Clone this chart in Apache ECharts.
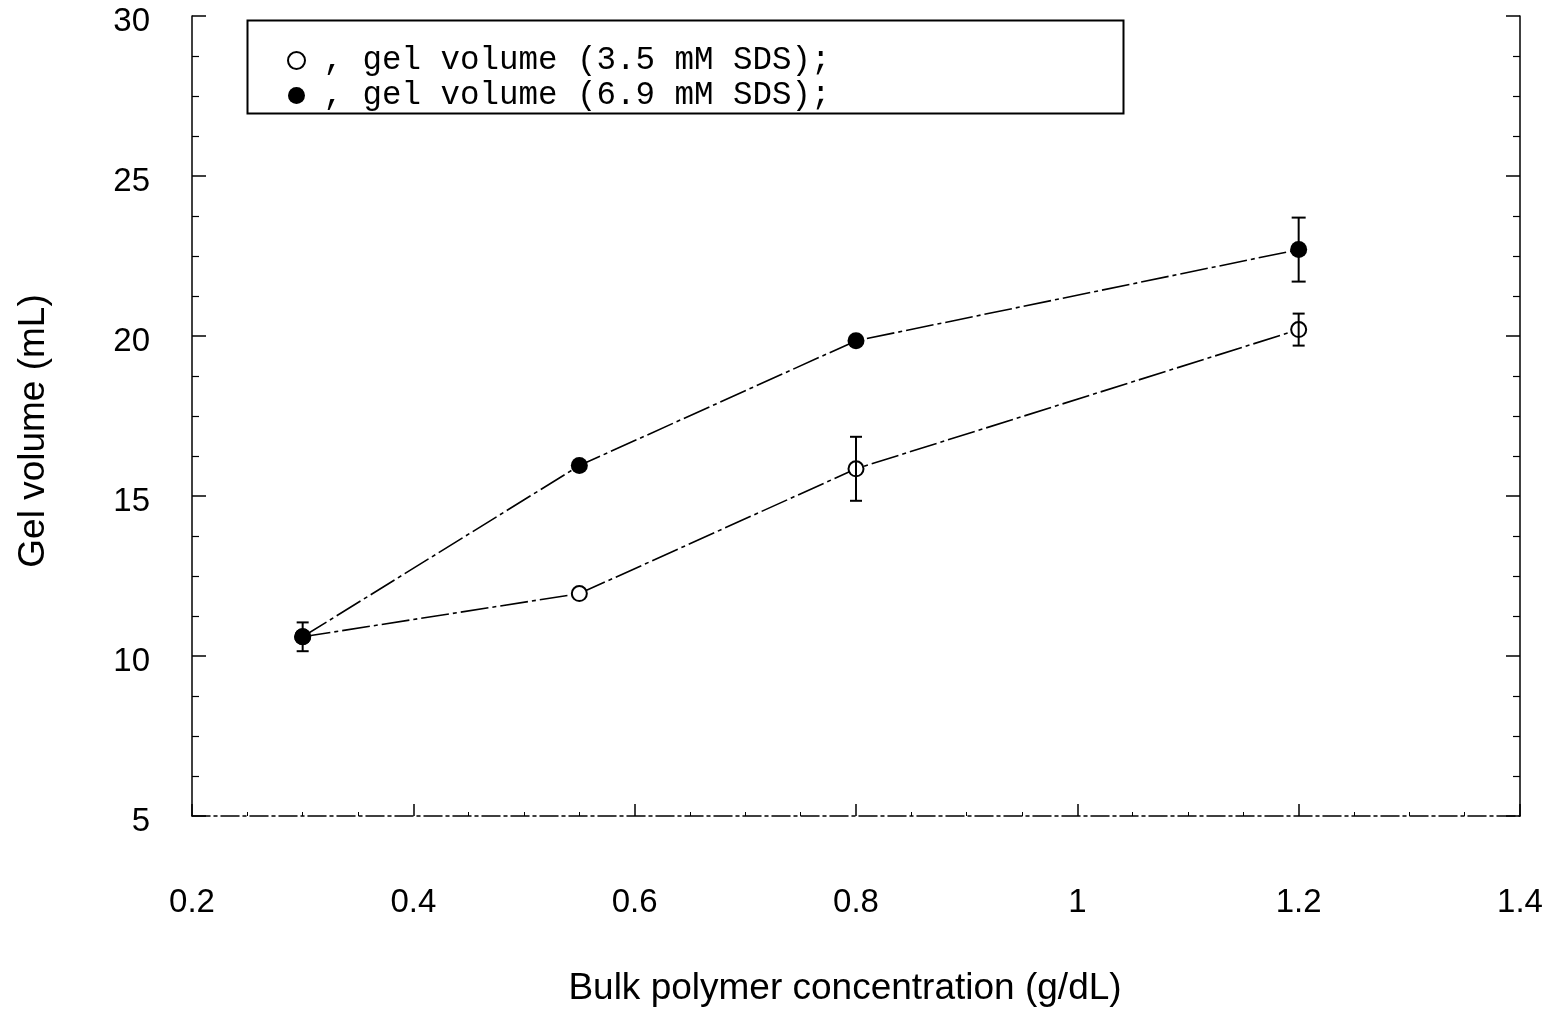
<!DOCTYPE html>
<html>
<head>
<meta charset="utf-8">
<script src="https://cdn.jsdelivr.net/npm/echarts@6/dist/echarts.min.js"></script>
<style>
  html, body { margin: 0; padding: 0; background: #fff; }
  #chart { width: 1552px; height: 1013px; }
</style>
</head>
<body>
<div id="chart"></div>
<script>
// Bulk polymer concentration (g/dL)
const concentrations = [0.3, 0.55, 0.8, 1.2];

// Gel volume (mL) and error half-widths, 3.5 mM SDS
const gel35 = [10.6, 11.95, 15.85, 20.2];
const err35 = [0.45, 0, 1.0, 0.5];

// Gel volume (mL) and error half-widths, 6.9 mM SDS
const gel69 = [10.6, 15.95, 19.85, 22.7];
const err69 = [0, 0, 0, 1.0];

const name35 = 'gel volume (3.5 mM SDS)';
const name69 = 'gel volume (6.9 mM SDS)';

const pairs = (xs, ys) => xs.map((x, i) => [x, ys[i]]);
const errRows = (xs, ys, es) => xs.map((x, i) => [x, ys[i], es[i]]).filter(r => r[2] > 0);

function errorBar(capHalf) {
  return function (params, api) {
    const x = api.value(0), y = api.value(1), e = api.value(2);
    const top = api.coord([x, y + e]);
    const bot = api.coord([x, y - e]);
    const style = { stroke: '#000', lineWidth: 2 };
    return {
      type: 'group',
      children: [
        { type: 'line', shape: { x1: top[0], y1: top[1], x2: bot[0], y2: bot[1] }, style },
        { type: 'line', shape: { x1: top[0] - capHalf, y1: top[1], x2: top[0] + capHalf, y2: top[1] }, style },
        { type: 'line', shape: { x1: bot[0] - capHalf, y1: bot[1], x2: bot[0] + capHalf, y2: bot[1] }, style }
      ]
    };
  };
}

const chart = echarts.init(document.getElementById('chart'));
const sans = 'Liberation Sans, Arial, sans-serif';
const labelFont = { fontFamily: sans, fontSize: 33, color: '#000' };
const titleFont = { fontFamily: sans, fontSize: 37, color: '#000' };

chart.setOption({
  animation: false,
  backgroundColor: '#fff',
  grid: { left: 192, right: 32, top: 16, height: 800, outerBoundsMode: 'none', containLabel: false },
  legend: {
    left: 282, top: 39,
    orient: 'vertical',
    icon: 'circle',
    itemGap: 2,
    itemWidth: 17, itemHeight: 17,
    data: [name35, name69],
    formatter: n => ' , ' + n + ';',
    textStyle: {
      fontFamily: 'Liberation Mono, Courier New, monospace', fontSize: 32.5, lineHeight: 28,
      color: '#000', padding: [0, 0, 0, -6]
    }
  },
  graphic: [{
    type: 'rect', left: 245, top: 18,
    shape: { width: 876, height: 93 },
    style: { fill: 'none', stroke: '#000', lineWidth: 2 },
    z: 10
  }],
  xAxis: {
    type: 'value', min: 0.2, max: 1.4, interval: 0.2,
    axisLine: { lineStyle: { color: '#000', width: 1.5, type: [18, 4, 3, 4] } },
    axisTick: { inside: true, length: 12, lineStyle: { color: '#000', width: 1.5 } },
    minorTick: { show: true, splitNumber: 4, length: 4, lineStyle: { color: '#000' } },
    splitLine: { show: false },
    axisLabel: Object.assign({ margin: 70 }, labelFont),
    name: 'Bulk polymer concentration (g/dL)',
    nameLocation: 'middle', nameGap: 154,
    nameTextStyle: Object.assign({ padding: [0, 22, 0, 0] }, titleFont)
  },
  yAxis: [{
    type: 'value', min: 5, max: 30, interval: 5,
    axisLine: { lineStyle: { color: '#000', width: 1.5 } },
    axisTick: { inside: true, length: 14, lineStyle: { color: '#000', width: 1.5 } },
    minorTick: { show: true, splitNumber: 4, length: 7, lineStyle: { color: '#000', width: 1.2 } },
    splitLine: { show: false },
    axisLabel: Object.assign({ margin: 42, verticalAlign: 'top', lineHeight: 12 }, labelFont),
    name: 'Gel volume (mL)',
    nameLocation: 'middle', nameGap: 140, nameRotate: 90,
    nameTextStyle: Object.assign({ padding: [0, 30, 0, 0] }, titleFont)
  }, {
    type: 'value', min: 5, max: 30, interval: 5, position: 'right',
    axisLine: { show: true, lineStyle: { color: '#000', width: 1.5 } },
    axisTick: { inside: true, length: 14, lineStyle: { color: '#000', width: 1.5 } },
    minorTick: { show: true, splitNumber: 4, length: 7, lineStyle: { color: '#000', width: 1.2 } },
    splitLine: { show: false },
    axisLabel: { show: false }
  }],
  series: [
    {
      name: name35, type: 'line', data: pairs(concentrations, gel35),
      symbol: 'circle', symbolSize: 15,
      itemStyle: { color: '#fff', borderColor: '#000', borderWidth: 2 },
      lineStyle: { color: '#000', width: 1.6, type: [28, 4, 4, 4] },
      z: 3
    },
    {
      name: name69, type: 'line', data: pairs(concentrations, gel69),
      symbol: 'circle', symbolSize: 17,
      itemStyle: { color: '#000', borderColor: '#000', borderWidth: 0 },
      lineStyle: { color: '#000', width: 1.6, type: [28, 4, 4, 4] },
      z: 4
    },
    {
      type: 'custom', renderItem: errorBar(6),
      data: errRows(concentrations, gel35, err35), z: 5, silent: true
    },
    {
      type: 'custom', renderItem: errorBar(7),
      data: errRows(concentrations, gel69, err69), z: 5, silent: true
    }
  ]
});
</script>
</body>
</html>
